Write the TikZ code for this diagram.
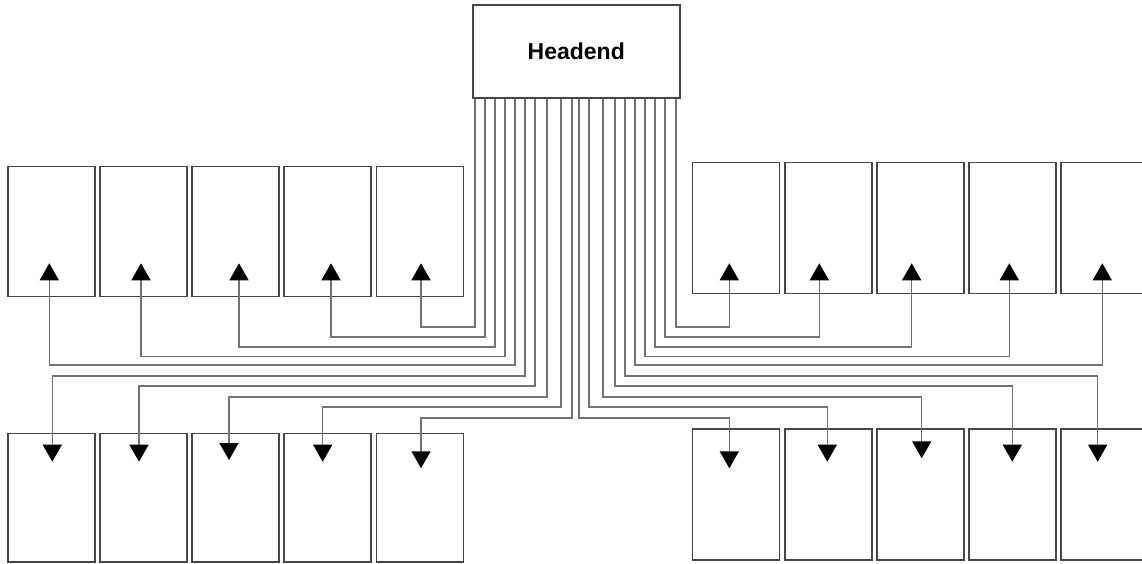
\documentclass[tikz,border=0pt]{standalone}
\usepackage{fontspec}
\setmainfont{Liberation Sans}
\usetikzlibrary{arrows.meta}
\begin{document}
\begin{tikzpicture}[x=1pt,y=-1pt,
  unit/.style={draw=black!72, line width=1.5pt, inner sep=0pt, anchor=north west,
               minimum width=87pt},
  wire/.style={draw=black!55, line width=1.4pt,
               -{Triangle[width=19pt,length=17pt,color=black]}}]
\useasboundingbox (0,0) rectangle (1142,563);
\clip (0,0) rectangle (1142,563);

% head-end
\node[unit, minimum width=207pt, minimum height=93pt,
      font=\bfseries\fontsize{23}{27}\selectfont] (head) at (472,4) {Headend};

% upper and lower rows, left half
\foreach \n/\x in {1/7.3,2/99.3,3/191.3,4/283.3,5/375.7}{
  \node[unit, minimum height=130pt] (tl\n) at (\x,165.7) {};
  \node[unit, minimum height=128.5pt] (bl\n) at (\x,432.7) {};
}
% upper and lower rows, right half
\foreach \n/\x in {1/691.7,2/784,3/876,4/968,5/1060}{
  \node[unit, minimum height=131pt] (tr\n) at (\x,161.7) {};
  \node[unit, minimum height=131pt] (br\n) at (\x,428.3) {};
}

% arrow tips inside the units
\coordinate (utl1) at (49.3,263.3);
\coordinate (utl2) at (141,263.3);
\coordinate (utl3) at (239,263.3);
\coordinate (utl4) at (331,263.3);
\coordinate (utl5) at (421,263.3);
\coordinate (dbl1) at (52.3,461.7);
\coordinate (dbl2) at (139,461.7);
\coordinate (dbl3) at (229,460);
\coordinate (dbl4) at (322.7,461.7);
\coordinate (dbl5) at (421,468.3);
\coordinate (utr1) at (729.3,263.3);
\coordinate (utr2) at (819.3,263.3);
\coordinate (utr3) at (911.7,263.3);
\coordinate (utr4) at (1009.3,263.3);
\coordinate (utr5) at (1102.3,263.3);
\coordinate (dbr1) at (729.3,468.3);
\coordinate (dbr2) at (827.3,461.7);
\coordinate (dbr3) at (921.7,458.3);
\coordinate (dbr4) at (1012.3,461.7);
\coordinate (dbr5) at (1097.7,461.7);

% feeders: offset along the head-end base / level of the run / target
\foreach \off/\lv/\tip in {3/327/utl5, 13/337/utl4, 23/347/utl3, 33/356.5/utl2,
    43/365/utl1, 53/376/dbl1, 63/386/dbl2, 75/397/dbl3, 89/407/dbl4, 100/418/dbl5,
    204/327/utr1, 193/337/utr2, 183/347/utr3, 173/356.5/utr4, 163/365/utr5,
    153/376/dbr5, 143/386/dbr4, 131/397/dbr3, 117/407/dbr2, 107/418/dbr1}{
  \draw[wire] ([xshift=\off pt]head.south west) |- (\tip |- 0,\lv) -- (\tip);
}
\end{tikzpicture}
\end{document}
